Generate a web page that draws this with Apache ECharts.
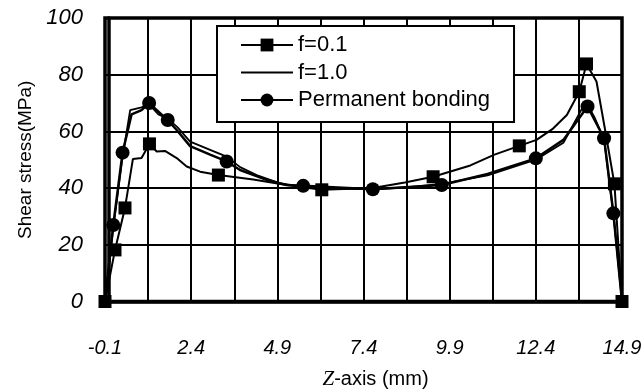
<!DOCTYPE html>
<html>
<head>
<meta charset="utf-8">
<script src="https://cdn.jsdelivr.net/npm/echarts@6/dist/echarts.min.js"></script>
<style>
  html, body { margin: 0; padding: 0; background: #fff; }
  #chart { width: 643px; height: 391px; }
</style>
</head>
<body>
<div id="chart"></div>
<script>
// 数据
var xTickLabels = ["-0.1", "2.4", "4.9", "7.4", "9.9", "12.4", "14.9"];

// f=0.1, 方块标记
var f01X = [-0.1, 0.19, 0.48, 0.71, 0.96, 1.19, 1.4, 1.64, 1.98, 2.27, 2.66, 3.19, 4.2, 5.17, 6.19, 7.67, 8.6, 9.42, 10.5, 11.2, 11.92, 12.42, 12.9, 13.3, 13.66, 13.87, 14.16, 14.4, 14.68, 14.9];
var f01Y = [0, 18.2, 33, 50.3, 50.6, 55.6, 52.9, 53.1, 50.6, 47.6, 45.8, 44.6, 43, 41.1, 39.4, 40, 42, 44, 48, 51.8, 54.9, 57, 61, 65.8, 74, 83.8, 77.6, 61.2, 41.5, 0];
var f01Mark = [1, 1, 1, 0, 0, 1, 0, 0, 0, 0, 0, 1, 0, 0, 1, 0, 0, 1, 0, 0, 1, 0, 0, 0, 1, 1, 0, 0, 1, 1];

// f=1.0, 无标记
var f10X = [-0.1, 0.14, 0.41, 0.63, 0.96, 1.18, 1.45, 1.72, 2.0, 2.37, 2.95, 3.43, 3.82, 4.3, 4.98, 5.65, 6.7, 7.67, 8.7, 9.67, 11.0, 12.4, 13.2, 13.85, 14.1, 14.38, 14.65, 14.9];
var f10Y = [0, 26, 51, 67.5, 68.5, 69.5, 66, 64.5, 61.5, 56.4, 53.5, 51.1, 47.4, 44.6, 41.7, 40.5, 39.8, 39.6, 40.3, 41.5, 44.5, 50, 56, 70.5, 65, 57, 31, 0];

// Permanent bonding, 圆点标记
var pbX = [-0.1, 0.14, 0.41, 0.67, 0.96, 1.18, 1.72, 1.98, 2.37, 2.95, 3.43, 3.82, 4.59, 5.17, 5.65, 7.67, 9.67, 11.0, 12.4, 13.2, 13.9, 14.38, 14.65, 14.9];
var pbY = [0, 27, 52.5, 66, 67.5, 70, 64, 60.5, 54.8, 51.8, 49.4, 46.4, 42.9, 41.1, 40.8, 39.6, 41.1, 45, 50.5, 57, 68.8, 57.6, 31.1, 0];
var pbMark = [0, 1, 1, 0, 0, 1, 1, 0, 0, 0, 1, 0, 0, 0, 1, 1, 1, 0, 1, 0, 1, 1, 1, 0];

function pts(xs, ys, marks) {
  return xs.map(function (x, i) {
    var item = { value: [x, ys[i]] };
    if (marks && !marks[i]) item.symbol = "none";
    return item;
  });
}

var myChart = echarts.init(document.getElementById("chart"));
var font = "Liberation Sans";

var option = {
  animation: false,
  backgroundColor: "#fff",
  textStyle: { fontFamily: font, color: "#000" },
  grid: {
    left: 105,
    right: 21,
    top: 18,
    bottom: 89.5,
    show: true,
    borderColor: "#000",
    borderWidth: 3.5,
    containLabel: false,
    outerBoundsMode: "none"
  },
  legend: {
    orient: "vertical",
    left: 217,
    top: 26,
    itemWidth: 52,
    itemHeight: 16,
    itemGap: 5.5,
    padding: [8, 24, 11, 23],
    borderColor: "#000",
    borderWidth: 2,
    borderRadius: 0,
    backgroundColor: "#fff",
    textStyle: { fontFamily: font, fontSize: 22, lineHeight: 22, color: "#000" },
    data: [
      "f=0.1",
      {
        name: "f=1.0",
        itemStyle: { color: "rgba(0,0,0,0)", borderWidth: 0 },
        lineStyle: { color: "#000", width: 1.8 }
      },
      "Permanent bonding"
    ]
  },
  xAxis: {
    type: "value",
    min: -0.1,
    max: 14.9,
    interval: 1.25,
    name: "{z|Z}{t|-axis (mm)}",
    nameLocation: "middle",
    nameGap: 67,
    nameTextStyle: {
      padding: [0, 0, 0, 24],
      rich: {
        z: { fontFamily: "Liberation Serif", fontStyle: "italic", fontSize: 21, color: "#000" },
        t: { fontFamily: font, fontSize: 20, color: "#000" }
      }
    },
    axisLine: { show: true, lineStyle: { color: "#000", width: 3.5 } },
    axisTick: { show: false },
    axisLabel: {
      margin: 37,
      fontSize: 20,
      fontStyle: "italic",
      color: "#000",
      fontFamily: font,
      formatter: function (v) {
        var k = Math.round((v + 0.1) / 1.25);
        return k % 2 ? "" : xTickLabels[k / 2];
      }
    },
    splitLine: { show: true, lineStyle: { color: "#000", width: 2 } }
  },
  yAxis: {
    type: "value",
    min: 0,
    max: 100,
    interval: 20,
    name: "Shear stress(MPa)",
    nameLocation: "middle",
    nameGap: 66,
    nameTextStyle: { fontFamily: font, fontSize: 19, color: "#000" },
    axisLine: { show: true, lineStyle: { color: "#000", width: 3.5 } },
    axisTick: { show: false },
    axisLabel: {
      margin: 22,
      fontSize: 22,
      fontStyle: "italic",
      color: "#000",
      fontFamily: font
    },
    splitLine: { show: true, lineStyle: { color: "#000", width: 2 } }
  },
  series: [
    {
      name: "f=0.1",
      type: "line",
      clip: false,
      symbol: "rect",
      symbolSize: 13,
      itemStyle: { color: "#000" },
      lineStyle: { color: "#000", width: 2 },
      data: pts(f01X, f01Y, f01Mark)
    },
    {
      name: "f=1.0",
      type: "line",
      clip: false,
      symbol: "none",
      itemStyle: { color: "#000" },
      lineStyle: { color: "#000", width: 1.8 },
      data: pts(f10X, f10Y)
    },
    {
      name: "Permanent bonding",
      type: "line",
      clip: false,
      symbol: "circle",
      symbolSize: 14,
      itemStyle: { color: "#000" },
      lineStyle: { color: "#000", width: 2.5 },
      data: pts(pbX, pbY, pbMark)
    }
  ]
};

myChart.setOption(option);
window.addEventListener("resize", function () {
  myChart.resize();
});
</script>
</body>
</html>
